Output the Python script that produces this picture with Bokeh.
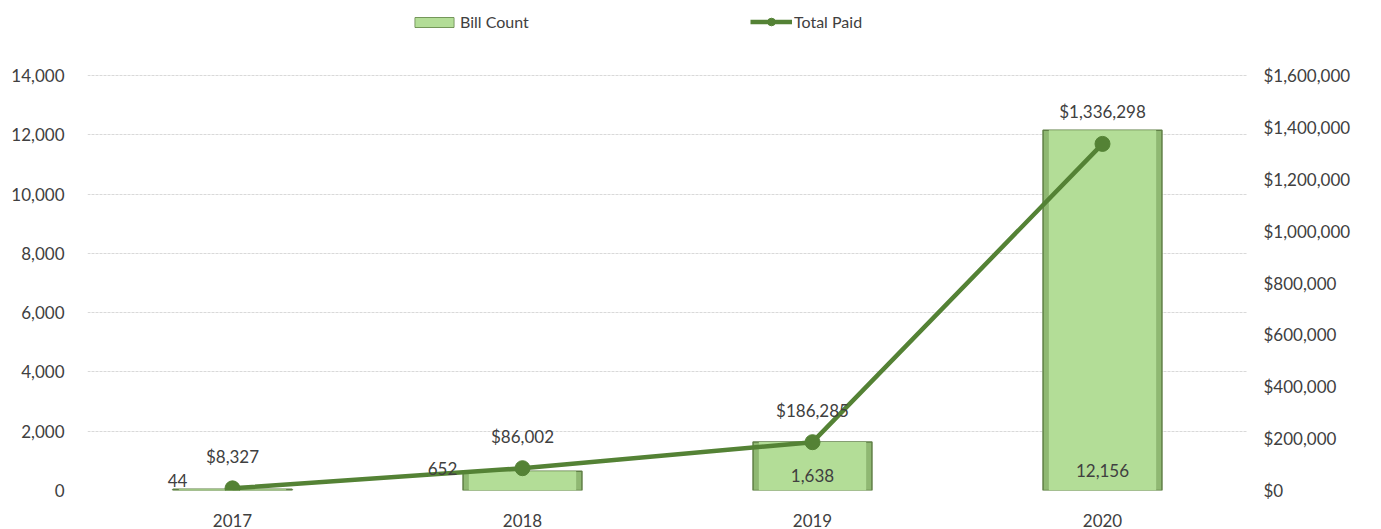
from bokeh.plotting import figure
from bokeh.models import (Range1d, LinearAxis, FixedTicker, NumeralTickFormatter,
                          ColumnDataSource, Legend, LegendItem, FactorRange)
from bokeh.core.properties import value
from bokeh.embed import file_html
from bokeh.resources import INLINE

years = ["2017", "2018", "2019", "2020"]
bill_count = [44, 652, 1638, 12156]
total_paid = [8327, 86002, 186285, 1336298]
left_ticks = [0, 2000, 4000, 6000, 8000, 10000, 12000, 14000]
right_ticks = [0, 200000, 400000, 600000, 800000, 1000000, 1200000, 1400000, 1600000]

# label placement (styling only)
bar_label_dx = [-55, -80, 0, 0]
bar_label_dy = [-10, -22, -15, -20]

FONT = "Lato"
TXT = "#404040"
GREEN = "#548235"

# layout in pixels
FRAME_H = 490          # frame spans from top of figure to the zero line
AXIS_SPAN = 415        # pixels between 0 and the top tick
stretch = FRAME_H / AXIS_SPAN

src = ColumnDataSource(dict(
    year=years, count=bill_count, paid=total_paid,
    count_lbl=[f"{v:,}" for v in bill_count],
    paid_lbl=[f"${v:,}" for v in total_paid],
    dx=bar_label_dx, dy=bar_label_dy,
))

p = figure(width=1381, height=529, x_range=FactorRange(*years),
           y_range=Range1d(0, max(left_ticks) * stretch),
           output_backend="svg", toolbar_location=None)
p.min_border_left = 87
p.min_border_right = 134
p.min_border_top = 0
p.min_border_bottom = 39
p.outline_line_color = None
p.extra_y_ranges = {"paid": Range1d(0, max(right_ticks) * stretch)}

# axes
la = p.yaxis[0]
la.ticker = FixedTicker(ticks=left_ticks)
la.formatter = NumeralTickFormatter(format="0,0")
ra = LinearAxis(y_range_name="paid", ticker=FixedTicker(ticks=right_ticks),
                formatter=NumeralTickFormatter(format="$0,0"))
p.add_layout(ra, "right")
for ax in [la, ra, p.xaxis[0]]:
    ax.axis_line_color = None
    ax.major_tick_line_color = None
    ax.minor_tick_line_color = None
    ax.major_label_text_font = FONT
    ax.major_label_text_font_size = "17px"
    ax.major_label_text_color = TXT
la.major_label_standoff = 17
ra.major_label_standoff = 10
p.xaxis[0].major_label_standoff = 17

p.xgrid.grid_line_color = None
p.ygrid.ticker = FixedTicker(ticks=left_ticks)
p.ygrid.grid_line_color = "#d9d9d9"
p.ygrid.grid_line_width = 1
p.ygrid.grid_line_dash = "3 1"

# bars with bevel look
bars = p.vbar(x="year", top="count", width=0.41, source=src,
              fill_color="#8fb872", line_color="#5f7f45", line_width=1.5)
bars_in = p.vbar(x="year", top="count", width=0.37, source=src,
                 fill_color="#b3dd97", line_color=None)

# line
ln = p.line(x="year", y="paid", source=src, y_range_name="paid",
            line_color=GREEN, line_width=4.5)
mk = p.scatter(x="year", y="paid", source=src, y_range_name="paid",
               size=15, fill_color=GREEN, line_color=GREEN)

# labels
p.text(x="year", y="paid", text="paid_lbl", source=src, y_range_name="paid",
       y_offset=-32, text_align="center", text_baseline="middle",
       text_font=value(FONT), text_font_size="17px", text_color=TXT)
p.text(x="year", y=0, text="count_lbl", source=src,
       x_offset="dx", y_offset="dy", text_align="center", text_baseline="middle",
       text_font=value(FONT), text_font_size="17px", text_color=TXT)

leg1 = Legend(items=[LegendItem(label="Bill Count", renderers=[bars, bars_in])],
              location=(323, 459), orientation="horizontal",
              glyph_width=48, glyph_height=12, label_standoff=2, padding=0, margin=0,
              border_line_color=None, background_fill_alpha=0,
              label_text_font=FONT, label_text_font_size="16px", label_text_color=TXT)
leg2 = Legend(items=[LegendItem(label="Total Paid", renderers=[ln, mk])],
              location=(663, 459), orientation="horizontal",
              glyph_width=42, glyph_height=19, label_standoff=2, padding=0, margin=0,
              border_line_color=None, background_fill_alpha=0,
              label_text_font=FONT, label_text_font_size="16px", label_text_color=TXT)
p.add_layout(leg1, "center")
p.add_layout(leg2, "center")

open("out.html", "w").write(file_html(p, INLINE))
